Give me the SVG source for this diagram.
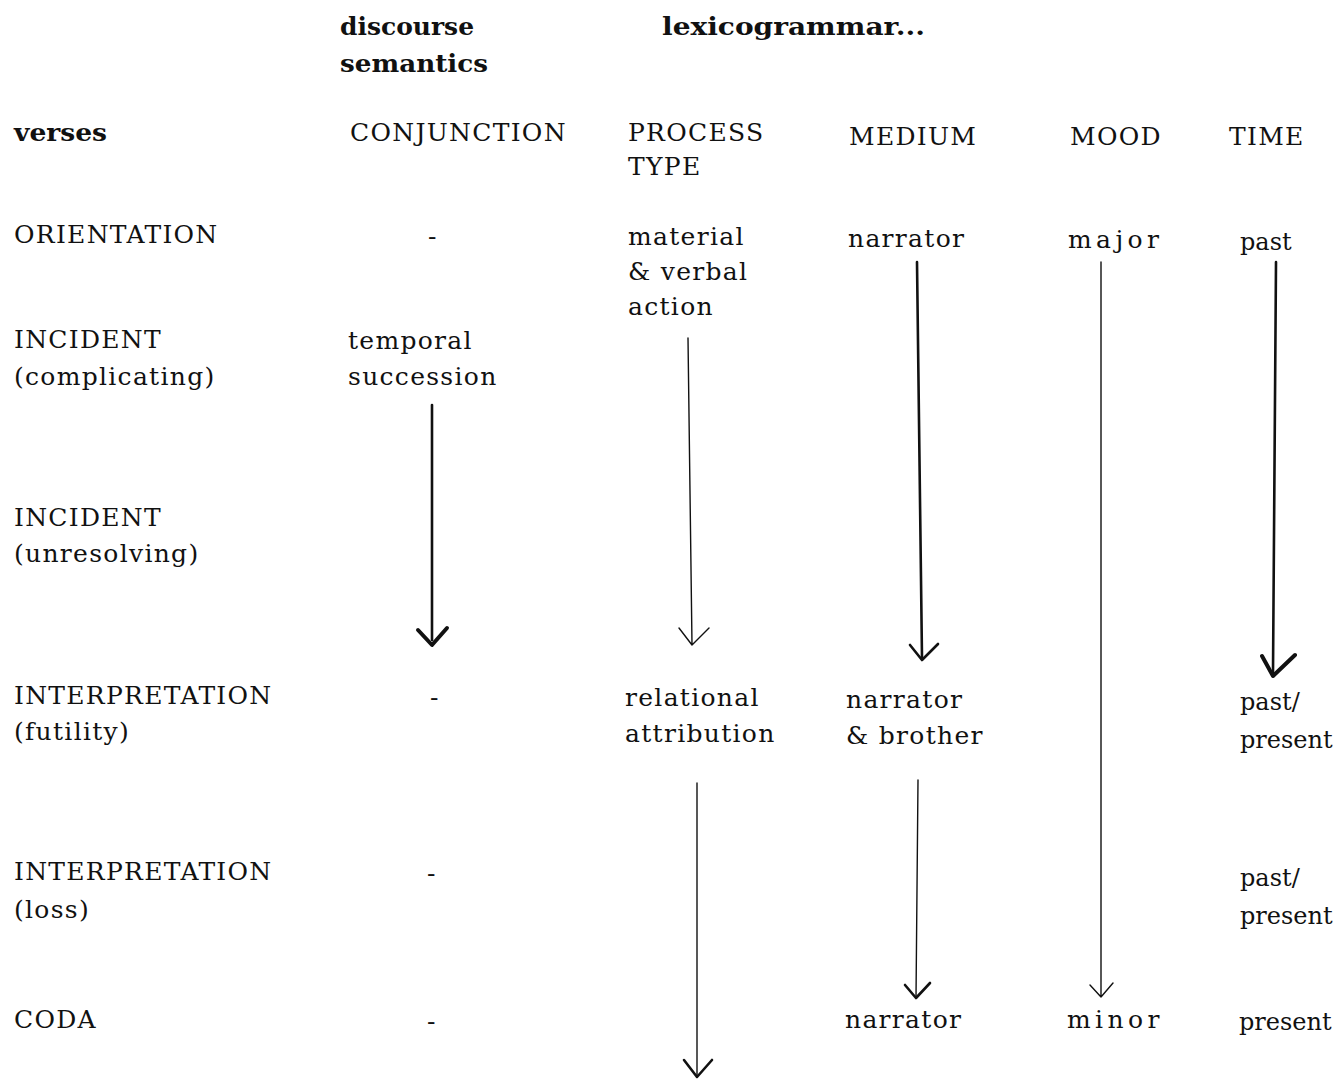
<svg xmlns="http://www.w3.org/2000/svg" width="1338" height="1083" viewBox="0 0 1338 1083">
<style>
text{font-family:"DejaVu Serif","Liberation Serif",serif;font-size:25px;letter-spacing:1.3px;fill:#111}
.h{font-family:"DejaVu Serif","Liberation Serif",serif;font-weight:bold;font-size:24px;letter-spacing:0}
.n{letter-spacing:0;font-size:24px}
.w{letter-spacing:4.4px}
.a{fill:none;stroke:#111;stroke-linecap:round;stroke-linejoin:round}
.thin{stroke-width:1.4}
.thick{stroke-width:2.6}
.head{stroke-width:4}
</style>
<rect width="1338" height="1083" fill="#fff"/>
<g id="headers">
<text class="h" x="340" y="35" textLength="134" lengthAdjust="spacingAndGlyphs">discourse</text>
<text class="h" x="340" y="72" textLength="148" lengthAdjust="spacingAndGlyphs">semantics</text>
<text class="h" x="662" y="35" textLength="263" lengthAdjust="spacingAndGlyphs">lexicogrammar...</text>
<text class="h" x="14" y="141" textLength="93" lengthAdjust="spacingAndGlyphs">verses</text>
<text x="350" y="141">CONJUNCTION</text>
<text x="628" y="141">PROCESS</text>
<text x="628" y="175">TYPE</text>
<text x="849" y="145">MEDIUM</text>
<text x="1070" y="145">MOOD</text>
<text x="1229" y="145">TIME</text>
</g>
<g id="row-orientation">
<text x="14" y="243">ORIENTATION</text>
<text x="428" y="245">-</text>
<text x="628" y="245">material</text>
<text x="628" y="280">&amp; verbal</text>
<text x="628" y="315">action</text>
<text x="848" y="247">narrator</text>
<text class="w" x="1068" y="248">major</text>
<text class="n" x="1240" y="250">past</text>
</g>
<g id="row-incident-complicating">
<text x="14" y="348">INCIDENT</text>
<text x="14" y="385">(complicating)</text>
<text x="348" y="349">temporal</text>
<text x="348" y="385">succession</text>
</g>
<g id="row-incident-unresolving">
<text x="14" y="526">INCIDENT</text>
<text x="14" y="562">(unresolving)</text>
</g>
<g id="row-interpretation-futility">
<text x="14" y="704">INTERPRETATION</text>
<text x="14" y="740">(futility)</text>
<text x="430" y="706">-</text>
<text x="625" y="706">relational</text>
<text x="625" y="742">attribution</text>
<text x="846" y="708">narrator</text>
<text x="846" y="744">&amp; brother</text>
<text class="n" x="1240" y="710">past/</text>
<text class="n" x="1240" y="748">present</text>
</g>
<g id="row-interpretation-loss">
<text x="14" y="880">INTERPRETATION</text>
<text x="14" y="918">(loss)</text>
<text x="427" y="882">-</text>
<text class="n" x="1240" y="886">past/</text>
<text class="n" x="1240" y="924">present</text>
</g>
<g id="row-coda">
<text x="14" y="1028">CODA</text>
<text x="427" y="1030">-</text>
<text x="845" y="1028">narrator</text>
<text class="w" x="1067" y="1028">minor</text>
<text class="n" x="1239" y="1030">present</text>
</g>
<g id="connectors">
<path class="a thick" d="M432 405 L432 640"/>
<path class="a head" d="M418 630 L432 645 L447 628"/>
<path class="a thin" d="M688 338 L692 645 M679 628 L692 645 L709 628"/>
<path class="a thick" d="M917 262 L922 658"/>
<path class="a thick" d="M910 645 L922 660 L938 644"/>
<path class="a thick" d="M1276 262 L1273 672"/>
<path class="a head" d="M1262 656 L1273 676 L1295 655"/>
<path class="a thin" d="M1101 262 L1101 997 M1090 985 L1101 997 L1113 983"/>
<path class="a thin" d="M697 783 L697 1077"/>
<path class="a thick" d="M684 1060 L697 1077 L712 1060"/>
<path class="a thin" d="M918 780 L916 998"/>
<path class="a thick" d="M905 985 L916 998 L930 983"/>
</g>
</svg>
